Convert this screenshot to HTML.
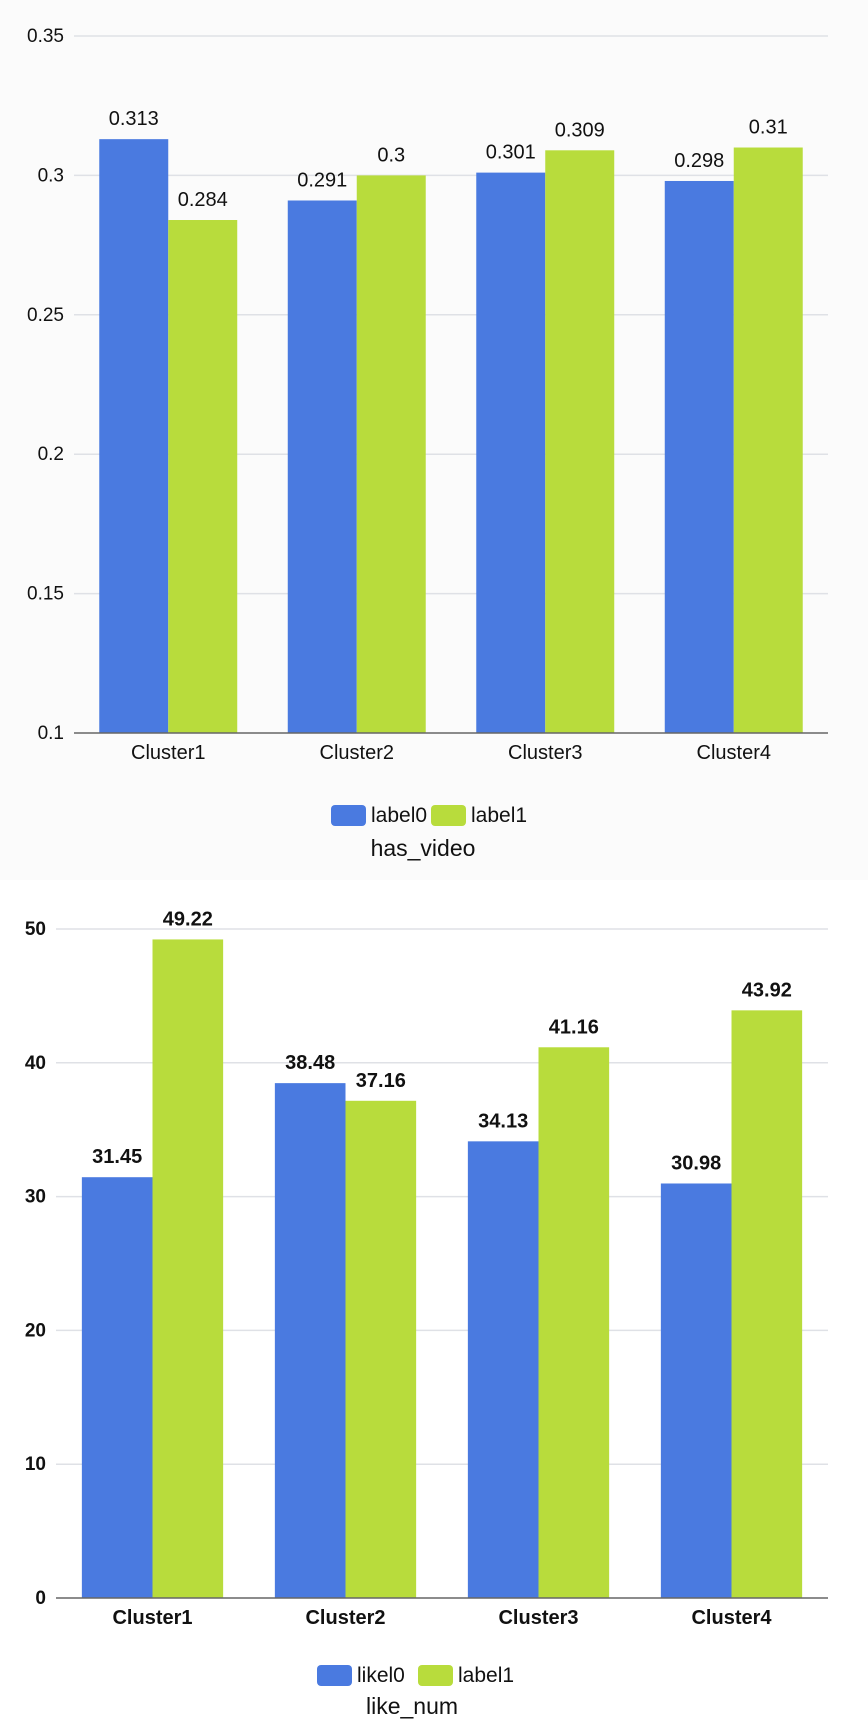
<!DOCTYPE html>
<html><head><meta charset="utf-8"><style>
html,body{margin:0;padding:0;background:#fff;}
body{width:868px;height:1725px;overflow:hidden;}
svg text{font-family:"Liberation Sans Narrow","Liberation Sans",sans-serif;fill:#111;}
</style></head><body>
<svg id="svg" width="868" height="1725" xmlns="http://www.w3.org/2000/svg">
<rect x="0" y="0" width="868" height="880" fill="#fbfbfb"/>
</svg>
<script>
const categories = ["Cluster1","Cluster2","Cluster3","Cluster4"];
const hvLabel0 = [0.313,0.291,0.301,0.298];
const hvLabel1 = [0.284,0.3,0.309,0.31];
const hvTicks = [0.1,0.15,0.2,0.25,0.3,0.35];
const hvTickLabels = ["0.1","0.15","0.2","0.25","0.3","0.35"];
const lnLabel0 = [31.45,38.48,34.13,30.98];
const lnLabel1 = [49.22,37.16,41.16,43.92];
const lnTicks = [0,10,20,30,40,50];
const lnTickLabels = ["0","10","20","30","40","50"];

const NS="http://www.w3.org/2000/svg";
const svg=document.getElementById('svg');
function mk(tag,attrs,parent){const e=document.createElementNS(NS,tag);for(const k in attrs)e.setAttribute(k,attrs[k]);(parent||svg).appendChild(e);return e;}
function txt(x,y,s,attrs,parent){const e=mk('text',Object.assign({x:x,y:y},attrs),parent);e.textContent=s;return e;}

function drawChart(cfg){
  const g=mk('g',{});
  
  
  const y=v=>cfg.yBottom-(v-cfg.min)/(cfg.max-cfg.min)*(cfg.yBottom-cfg.yTop);
  const band=(cfg.x1-cfg.x0)/categories.length;
  cfg.ticks.forEach((t,i)=>{
    if(i>0){const l=mk('line',{x1:cfg.x0,x2:cfg.x1,y1:y(t),y2:y(t),stroke:'#dfe1e6','stroke-width':1.5},g);
    
    }
    const tx=txt(cfg.x0-10,y(t)+6,cfg.tickLabels[i],{'text-anchor':'end','font-size':19,'font-weight':cfg.bold?'bold':'normal'},g);
    
    
  });
  const bw=band*0.366;
  categories.forEach((c,i)=>{
    const cx=cfg.x0+band*(i+0.5);
    [[cfg.s0,'#4a7ae0',-1],[cfg.s1,'#b8dc3c',0]].forEach(([s,col,off])=>{
      const v=s[i];
      const bx=cx+off*bw;
      const r=mk('rect',{x:bx,y:y(v),width:bw,height:y(cfg.min)-y(v),fill:col},g);
      
      
      const t=txt(bx+bw/2,y(v)-14,String(v),{'text-anchor':'middle','font-size':20,'font-weight':cfg.bold?'bold':'normal'},g);
      
      
    });
    const ct=txt(cx,cfg.yBottom+26,c,{'text-anchor':'middle','font-size':20,'font-weight':cfg.bold?'bold':'normal'},g);
    
    
  });
  const ax=mk('line',{x1:cfg.x0,x2:cfg.x1,y1:cfg.yBottom,y2:cfg.yBottom,stroke:'#666','stroke-width':1.5},g);
  
  
  const lg=mk('g',{},g);
  
  
  cfg.legend.forEach((L,i)=>{
    const r=mk('rect',{x:L.x,y:cfg.legY-10,width:35,height:21,rx:4,fill:i?'#b8dc3c':'#4a7ae0'},lg);
    
    
    const t=txt(L.x+40,cfg.legY+7,L.text,{'font-size':21},lg);
    
    
  });
  const tt=txt(cfg.titleX,cfg.titleY,cfg.title,{'text-anchor':'middle','font-size':23},g);
  
  
}
drawChart({name:'has-video-chart',x0:74,x1:828,yTop:36,yBottom:733,min:0.1,max:0.35,ticks:hvTicks,tickLabels:hvTickLabels,s0:hvLabel0,s1:hvLabel1,bold:false,legY:815,legend:[{x:331,text:'label0'},{x:431,text:'label1'}],title:'has_video',titleX:423,titleY:856});
drawChart({name:'like-num-chart',x0:56,x1:828,yTop:929,yBottom:1598,min:0,max:50,ticks:lnTicks,tickLabels:lnTickLabels,s0:lnLabel0,s1:lnLabel1,bold:true,legY:1675,legend:[{x:317,text:'likel0'},{x:418,text:'label1'}],title:'like_num',titleX:412,titleY:1714});
</script>
</body></html>
